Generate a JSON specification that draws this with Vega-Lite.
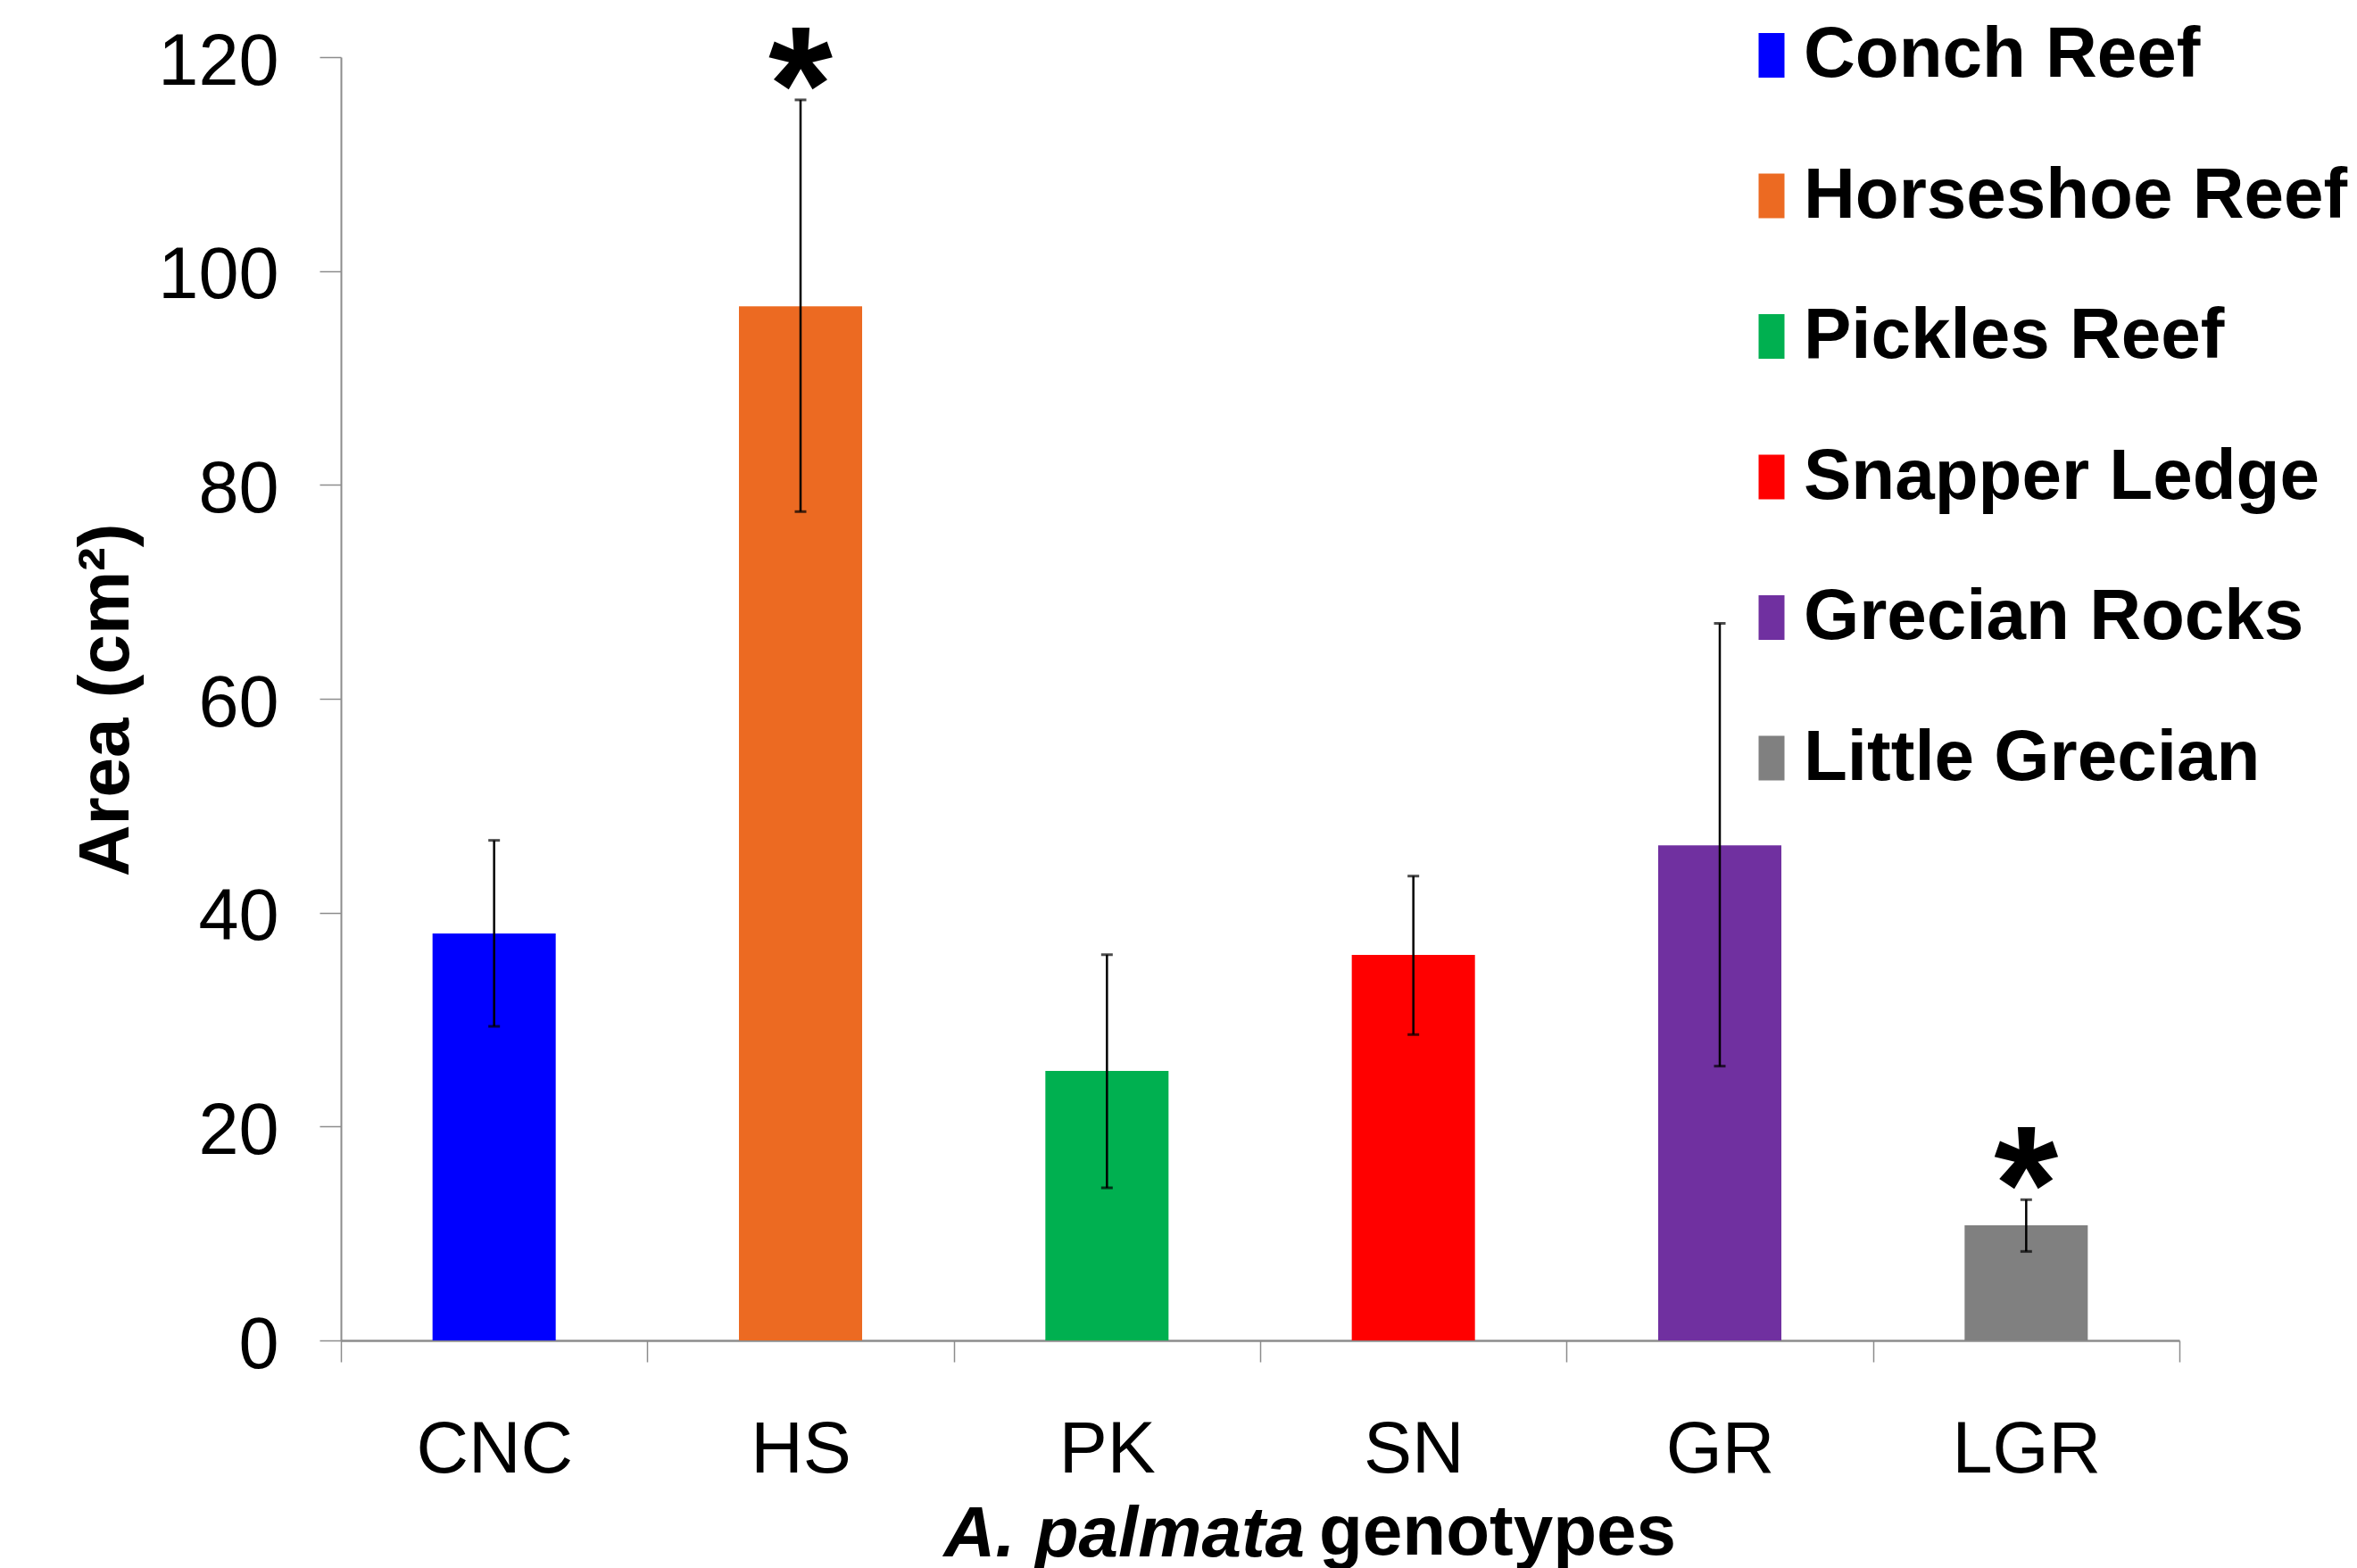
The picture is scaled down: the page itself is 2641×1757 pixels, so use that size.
{
  "$schema": "https://vega.github.io/schema/vega-lite/v6.json",
  "width": 2060,
  "height": 1438,
  "autosize": {"type": "none"},
  "padding": {"left": 382, "top": 64, "right": 199, "bottom": 255},
  "background": "white",
  "config": {"view": {"stroke": null}, "font": "Liberation Sans"},
  "title": {
    "text": "genotypes",
    "orient": "bottom",
    "anchor": "start",
    "frame": "group",
    "font": "Liberation Sans",
    "fontSize": 80,
    "fontWeight": "bold",
    "color": "black",
    "baseline": "alphabetic",
    "offset": 0,
    "dx": 1096,
    "dy": -17
  },
  "data": {
    "values": [
      {"genotype": "CNC", "site": "Conch Reef", "mean": 38.05, "lo": 29.37, "hi": 46.76, "sig": ""},
      {"genotype": "HS", "site": "Horseshoe Reef", "mean": 96.7, "lo": 77.5, "hi": 116.0, "sig": "*"},
      {"genotype": "PK", "site": "Pickles Reef", "mean": 25.2, "lo": 14.27, "hi": 36.07, "sig": ""},
      {"genotype": "SN", "site": "Snapper Ledge", "mean": 36.05, "lo": 28.6, "hi": 43.42, "sig": ""},
      {"genotype": "GR", "site": "Grecian Rocks", "mean": 46.3, "lo": 25.65, "hi": 67.05, "sig": ""},
      {"genotype": "LGR", "site": "Little Grecian", "mean": 10.77, "lo": 8.32, "hi": 13.16, "sig": "*"}
    ]
  },
  "encoding": {
    "x": {
      "field": "genotype",
      "type": "nominal",
      "sort": null,
      "scale": {"paddingInner": 0, "paddingOuter": 0},
      "axis": {
        "title": "A. palmata",
        "titleFont": "Liberation Sans",
        "titleFontSize": 80,
        "titleFontWeight": "bold",
        "titleFontStyle": "italic",
        "titleColor": "black",
        "titleAlign": "left",
        "titleBaseline": "alphabetic",
        "titleX": 675,
        "titleY": 241,
        "labelAngle": 0,
        "labelFont": "Liberation Sans",
        "labelFontSize": 81,
        "labelColor": "black",
        "labelPadding": 59,
        "tickBand": "extent",
        "tickSize": 24,
        "tickColor": "#8c8c8c",
        "tickWidth": 1.5,
        "domainColor": "#8c8c8c",
        "domainWidth": 2.5,
        "grid": false
      }
    }
  },
  "layer": [
    {
      "mark": {"type": "bar", "width": {"band": 0.402}},
      "encoding": {
        "y": {
          "field": "mean",
          "type": "quantitative",
          "title": "Area (cm²)",
          "scale": {"domain": [0, 120], "nice": false, "zero": true},
          "axis": {
            "values": [0, 20, 40, 60, 80, 100, 120],
            "titleFont": "Liberation Sans",
            "titleFontSize": 80,
            "titleFontWeight": "bold",
            "titleColor": "black",
            "titleAlign": "center",
            "titleBaseline": "alphabetic",
            "titleAngle": -90,
            "titleX": -239,
            "titleY": 720,
            "labelFont": "Liberation Sans",
            "labelFontSize": 81,
            "labelColor": "black",
            "labelPadding": 46,
            "labelOffset": 6,
            "tickSize": 24,
            "tickColor": "#8c8c8c",
            "tickWidth": 1.5,
            "domainColor": "#8c8c8c",
            "domainWidth": 2,
            "grid": false
          }
        },
        "color": {
          "field": "site",
          "type": "nominal",
          "scale": {
            "domain": ["Conch Reef", "Horseshoe Reef", "Pickles Reef", "Snapper Ledge", "Grecian Rocks", "Little Grecian"],
            "range": ["#0000FF", "#EC6A22", "#00B050", "#FF0000", "#7030A0", "#808080"]
          },
          "legend": {
            "title": null,
            "orient": "none",
            "legendX": 1563,
            "legendY": -42,
            "padding": 0,
            "symbolType": "M-0.58,-1H0.58V1H-0.58Z",
            "symbolSize": 2500,
            "symbolStrokeWidth": 0,
            "labelFont": "Liberation Sans",
            "labelFontSize": 80,
            "labelFontWeight": "bold",
            "labelColor": "black",
            "labelOffset": -4,
            "labelLimit": 0,
            "rowPadding": 77.5
          }
        }
      }
    },
    {
      "mark": {"type": "rule", "color": "black", "strokeWidth": 2.5},
      "encoding": {
        "y": {"field": "lo", "type": "quantitative", "title": "Area (cm²)"},
        "y2": {"field": "hi"}
      }
    },
    {
      "mark": {"type": "tick", "color": "black", "size": 13, "thickness": 3},
      "encoding": {
        "y": {"field": "hi", "type": "quantitative", "title": "Area (cm²)"}
      }
    },
    {
      "mark": {"type": "tick", "color": "black", "size": 13, "thickness": 3},
      "encoding": {
        "y": {"field": "lo", "type": "quantitative", "title": "Area (cm²)"}
      }
    },
    {
      "transform": [{"filter": "datum.sig != ''"}],
      "mark": {"type": "text", "font": "Liberation Sans", "fontSize": 185, "fontWeight": "bold", "color": "black", "baseline": "alphabetic", "align": "center", "dy": 47},
      "encoding": {
        "y": {"field": "hi", "type": "quantitative", "title": "Area (cm²)"},
        "text": {"field": "sig"}
      }
    }
  ]
}
